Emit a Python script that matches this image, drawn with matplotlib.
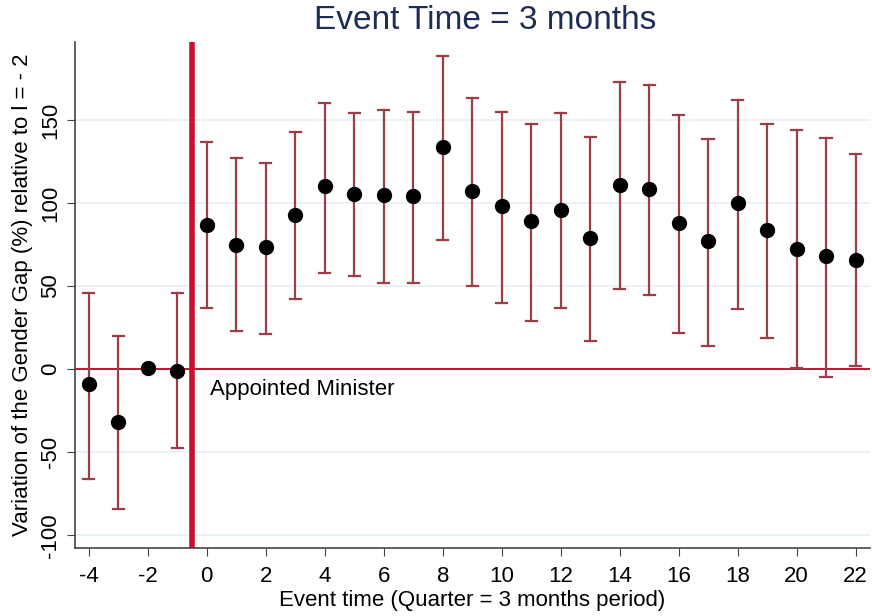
"""Event-study coefficient plot: gender gap variation around a minister appointment."""
import matplotlib.pyplot as plt
import matplotlib as mpl

mpl.rcParams["font.family"] = ["Liberation Sans", "DejaVu Sans"]
mpl.rcParams["axes.unicode_minus"] = False

BAR = "#9d3d47"; RED = "#c8102e"; GRID = "#e8f0f2"; NAVY = "#1e2d53"; SPINE = "#444444"

event_time = list(range(-4, 23))
coef = [-9, -32, 0.5, -1, 87, 75, 73.5, 93, 110, 105.5, 105, 104, 134, 107, 98, 89,
        96, 79, 111, 108.5, 88, 77, 100, 84, 72.5, 68, 66]
ci_hi = [46, 20, None, 46, 137, 127, 124, 143, 160, 154, 156, 155, 188.5, 163, 155, 147.5,
         154, 140, 173, 171, 153, 138.5, 162, 147.5, 144, 139, 129.5]
ci_lo = [-66, -84, None, -47.5, 37, 23, 21, 42, 58, 56, 52, 52, 78, 50, 40, 29,
         37, 17, 48, 44.5, 21.7, 14, 36, 19, 0.5, -5, 2]
xticks = list(range(-4, 23, 2))
yticks = [-100, -50, 0, 50, 100, 150]

fig = plt.figure(figsize=(8.72, 6.16), dpi=100)
ax = fig.add_axes([0.086, 0.110, 0.912, 0.822])

for t in yticks:
    ax.axhline(t, color=GRID, lw=1.2, zorder=0)
ax.axhline(0, color=RED, lw=1.4, zorder=1)
ax.axvline(-0.5, color=RED, lw=4, zorder=1)

for x, lo, hi in zip(event_time, ci_lo, ci_hi):
    if lo is None:
        continue
    ax.plot([x, x], [lo, hi], color=BAR, lw=1.6, zorder=2)
    ax.plot([x - 0.19, x + 0.19], [lo, lo], color=BAR, lw=1.6, zorder=2)
    ax.plot([x - 0.19, x + 0.19], [hi, hi], color=BAR, lw=1.6, zorder=2)
ax.scatter(event_time, coef, s=100, color="black", zorder=3)

ax.text(0.1, -12, "Appointed Minister", fontsize=16, va="center", ha="left")

ax.set_xlim(-4.47, 22.5)
ax.set_ylim(-107.8, 197)
ax.set_xticks(xticks)
ax.set_yticks(yticks)
ax.tick_params(axis="both", labelsize=16, direction="out", length=6, color=SPINE)
ax.tick_params(axis="x", pad=7)
ax.tick_params(axis="y", pad=4)
for lab in ax.get_yticklabels():
    lab.set_rotation(90); lab.set_va("center")
for s in ("top", "right"):
    ax.spines[s].set_visible(False)
for s in ("left", "bottom"):
    ax.spines[s].set_color(SPINE); ax.spines[s].set_linewidth(1.2)

ax.set_xlabel("Event time (Quarter = 3 months period)", fontsize=16, labelpad=2)
ax.set_ylabel("Variation of the Gender Gap (%) relative to l = - 2", fontsize=16, labelpad=5)
fig.text(0.556, 0.966, "Event Time = 3 months", fontsize=24, color=NAVY, ha="center", va="center")

fig.savefig("out.png", dpi=100, facecolor="white")
